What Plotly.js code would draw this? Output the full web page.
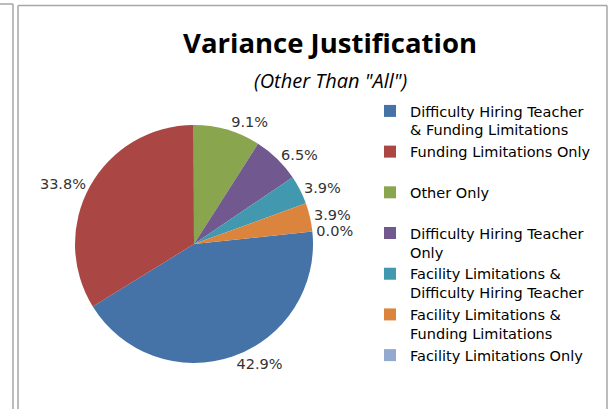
<!DOCTYPE html>
<html>
<head>
<meta charset="utf-8">
<script src="https://cdn.plot.ly/plotly-3.0.1.min.js"></script>
<style>
html,body{margin:0;padding:0;background:#fff;}
#chart{width:615px;height:409px;}
#chart path.textline{stroke-opacity:0 !important;}
</style>
</head>
<body>
<div id="chart"></div>
<script>
// Data
var categories = [
  "Difficulty Hiring Teacher<br>& Funding Limitations",
  "Funding Limitations Only<br> ",
  "Other Only<br> ",
  "Difficulty Hiring Teacher<br>Only",
  "Facility Limitations &<br>Difficulty Hiring Teacher",
  "Facility Limitations &<br>Funding Limitations",
  "Facility Limitations Only"
];
var counts = [33, 26, 7, 5, 3, 3, 0];
var sliceColors = ["#4572A7", "#AA4643", "#89A54E", "#71588F", "#4198AF", "#DB843D", "#93A9CF"];
var chartTitle = "Variance Justification";
var chartSubtitle = "(Other Than \"All\")";

var W = 615, H = 409;
function px(x){ return x / W; }
function py(y){ return 1 - y / H; }

var trace = {
  type: "pie",
  labels: categories,
  values: counts,
  sort: false,
  direction: "clockwise",
  rotation: 84,
  marker: { colors: sliceColors, line: { width: 0 } },
  textposition: "outside",
  texttemplate: "%{percent:.1%}",
  textfont: { family: "DejaVu Sans", size: 14.5, color: "#333333" },
  hoverinfo: "label+percent",
  domain: { x: [px(75), px(313)], y: [py(363), py(125)] },
  showlegend: true
};

var grey = "#a6a6a6";
var layout = {
  width: W, height: H,
  margin: { l: 0, r: 0, t: 0, b: 0, pad: 0 },
  paper_bgcolor: "#ffffff",
  plot_bgcolor: "#ffffff",
  title: {
    text: "<b>" + chartTitle + "</b>",
    font: { family: "Open Sans", size: 27.5, color: "#000000" },
    x: px(330), xanchor: "center", xref: "paper",
    y: py(43), yanchor: "middle", yref: "paper"
  },
  annotations: [{
    text: "<i>" + chartSubtitle + "</i>",
    xref: "paper", yref: "paper", x: px(330), y: py(80),
    xanchor: "center", yanchor: "middle", showarrow: false,
    font: { family: "Open Sans", size: 20, color: "#000000" }
  }],
  legend: {
    x: px(370), xanchor: "left",
    y: py(95), yanchor: "top",
    font: { family: "DejaVu Sans", size: 14.5, color: "#000000" },
    valign: "top",
    bgcolor: "rgba(0,0,0,0)",
    traceorder: "normal"
  },
  shapes: [
    { type: "line", xref: "paper", yref: "paper", x0: 0, x1: px(13), y0: py(4), y1: py(4), line: { color: grey, width: 1.5 } },
    { type: "line", xref: "paper", yref: "paper", x0: px(13), x1: px(13), y0: py(4), y1: 0, line: { color: grey, width: 1.5 } },
    { type: "line", xref: "paper", yref: "paper", x0: px(18), x1: px(607), y0: py(5.5), y1: py(5.5), line: { color: grey, width: 1.5 } },
    { type: "line", xref: "paper", yref: "paper", x0: px(18), x1: px(18), y0: py(5.5), y1: 0, line: { color: grey, width: 1.5 } },
    { type: "line", xref: "paper", yref: "paper", x0: px(607), x1: px(607), y0: py(5.5), y1: 0, line: { color: grey, width: 1.5 } }
  ]
};

Plotly.newPlot("chart", [trace], layout, { displayModeBar: false, staticPlot: true });
</script>
</body>
</html>
